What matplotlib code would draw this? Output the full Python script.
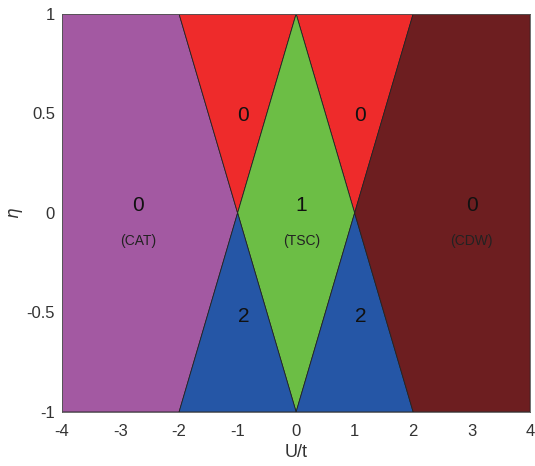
import numpy as np
import matplotlib.pyplot as plt

plt.rcParams['font.family'] = ['Liberation Sans', 'DejaVu Sans']

# phase boundaries: |U| + |eta| = 1 (TSC diamond), |U| = 1 + |eta| (outer lines)
phase_names = ['CAT', 'TSC', 'CDW']
region_colors = {
    'CAT': '#A359A2', 'red': '#EE2B2B', 'TSC': '#6CBE45',
    'blue': '#2556A6', 'CDW': '#6D1E20',
}

# region polygons (U/t, eta)
regions = [
    ('CAT', [(-4, -1), (-2, -1), (-1, 0), (-2, 1), (-4, 1)]),
    ('red', [(-2, 1), (0, 1), (-1, 0)]),
    ('red', [(0, 1), (2, 1), (1, 0)]),
    ('TSC', [(0, 1), (1, 0), (0, -1), (-1, 0)]),
    ('blue', [(-1, 0), (0, -1), (-2, -1)]),
    ('blue', [(1, 0), (2, -1), (0, -1)]),
    ('CDW', [(2, 1), (4, 1), (4, -1), (2, -1), (1, 0)]),
]

# winding numbers and their label positions
labels = [
    ('0', -2.7, 0.04), ('0', -0.9, 0.49), ('0', 1.1, 0.49),
    ('1', 0.09, 0.04), ('0', 3.0, 0.04), ('2', -0.9, -0.52), ('2', 1.1, -0.52),
]
phase_pos = [(-2.7, -0.14), (0.09, -0.14), (3.0, -0.14)]

fig = plt.figure(figsize=(5.35, 4.66), dpi=100)
ax = fig.add_axes([0.116, 0.116, 0.875, 0.854])

for name, pts in regions:
    ax.fill(*zip(*pts), color=region_colors[name], ec='#222222', lw=0.6)

for txt, x, y in labels:
    ax.text(x, y, txt, fontsize=15, ha='center', va='center', color='#111111')
for name, (x, y) in zip(phase_names, phase_pos):
    ax.text(x, y, '(' + name + ')', fontsize=10, ha='center', va='center', color='#222222')

ax.set_xlim(-4, 4)
ax.set_ylim(-1, 1)
ax.set_xticks([-4, -3, -2, -1, 0, 1, 2, 3, 4])
ax.set_yticks([-1, -0.5, 0, 0.5, 1])
ax.set_yticklabels(['-1', '-0.5', '0', '0.5', '1'])
ax.set_xticklabels(['-4', '-3', '-2', '-1', '0', '1', '2', '3', '4'])
ax.tick_params(length=0, labelsize=12, colors='#333333')
ax.tick_params(axis='x', pad=9)
ax.tick_params(axis='y', pad=5)
ax.set_xlabel('U/t', fontsize=13, color='#333333', labelpad=3)
ax.set_ylabel(r'$\eta$', fontsize=12, color='#333333')
ax.yaxis.set_label_coords(-0.08, 0.5)
for s in ax.spines.values():
    s.set_color('#555555')
    s.set_linewidth(0.6)

fig.savefig('out.png', dpi=100)
